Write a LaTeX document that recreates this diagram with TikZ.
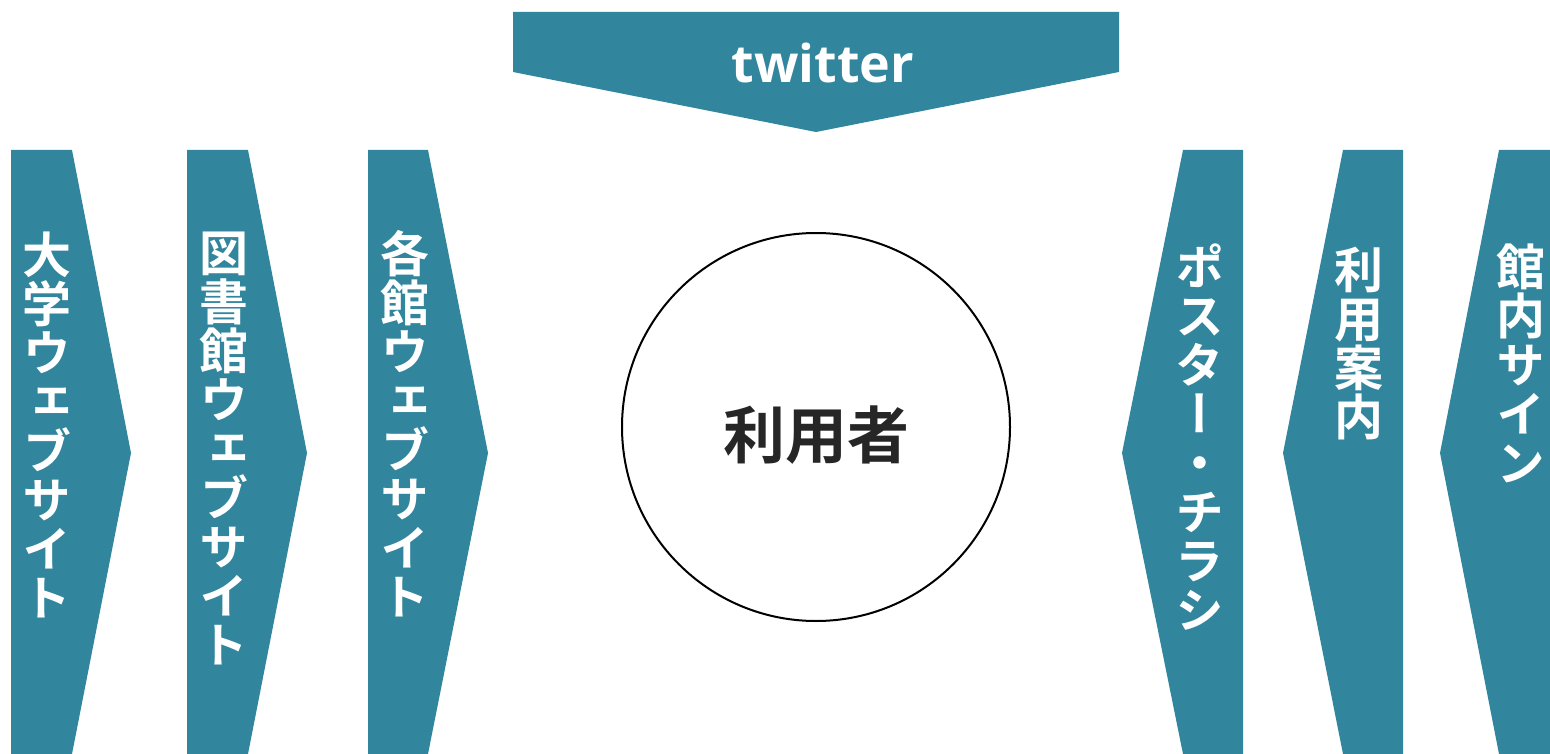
\documentclass[tikz,border=0pt]{standalone}
\usepackage{fontspec}
\newfontfamily\jpfont{Noto Sans CJK JP Bold}
\newfontfamily\jpvert[RawFeature={+vert}]{Noto Sans CJK JP Bold}
\newfontfamily\latinbold{Open Sans Bold}
\definecolor{bannerteal}{HTML}{31859C}
\definecolor{labelgray}{HTML}{262626}
\tikzset{
	arrowband/.style={fill=bannerteal, draw=none},
	vlabel/.style={text=white, font=\jpvert\fontsize{49}{49}\selectfont, align=center, anchor=north, inner sep=0pt}
}

\begin{document}
\begin{tikzpicture}[x=1pt, y=-1pt]
			%%%%% START %%%%%
			\useasboundingbox (0, 0) rectangle (1550, 754);
			
			\fill[arrowband] (513, 12) -- (1119, 12) -- (1119, 72) -- (816, 132) -- (513, 72) -- cycle;
			\node[text=white, font=\latinbold\fontsize{52}{58}\selectfont] (twitter) at (823, 63) {twitter};
			
			\fill[arrowband] (11, 150) -- (72, 150) -- (131, 453) -- (72, 754) -- (11, 754) -- cycle;
			\fill[arrowband] (187, 150) -- (248, 150) -- (307, 453) -- (248, 754) -- (187, 754) -- cycle;
			\fill[arrowband] (368, 150) -- (428, 150) -- (488, 453) -- (428, 754) -- (368, 754) -- cycle;
			
			\fill[arrowband] (1183, 150) -- (1243, 150) -- (1243, 754) -- (1183, 754) -- (1122, 453) -- cycle;
			\fill[arrowband] (1343, 150) -- (1403, 150) -- (1403, 754) -- (1343, 754) -- (1283, 453) -- cycle;
			\fill[arrowband] (1499, 150) -- (1550, 150) -- (1550, 754) -- (1499, 754) -- (1440, 453) -- cycle;
			
			\node[vlabel] (daigaku) at (47, 232) {大\\学\\ウ\\ェ\\ブ\\サ\\イ\\ト};
			\node[vlabel] (toshokan) at (224, 232) {図\\書\\館\\ウ\\ェ\\ブ\\サ\\イ\\ト};
			\node[vlabel] (kakukan) at (405, 230) {各\\館\\ウ\\ェ\\ブ\\サ\\イ\\ト};
			
			\node[vlabel] (poster) at (1200, 244) {ポ\\ス\\タ\\ー\\・\\チ\\ラ\\シ};
			\node[vlabel] (annai) at (1359, 247) {利\\用\\案\\内};
			\node[vlabel] (sign) at (1521, 244) {館\\内\\サ\\イ\\ン};
			
			\draw[line width=2pt, fill=white] (816, 427) circle (194);
			\node[text=labelgray, font=\jpfont\fontsize{62}{68}\selectfont] (riyousha) at (816, 435) {利用者};
			%%%%% END %%%%%
\end{tikzpicture}
\end{document}
